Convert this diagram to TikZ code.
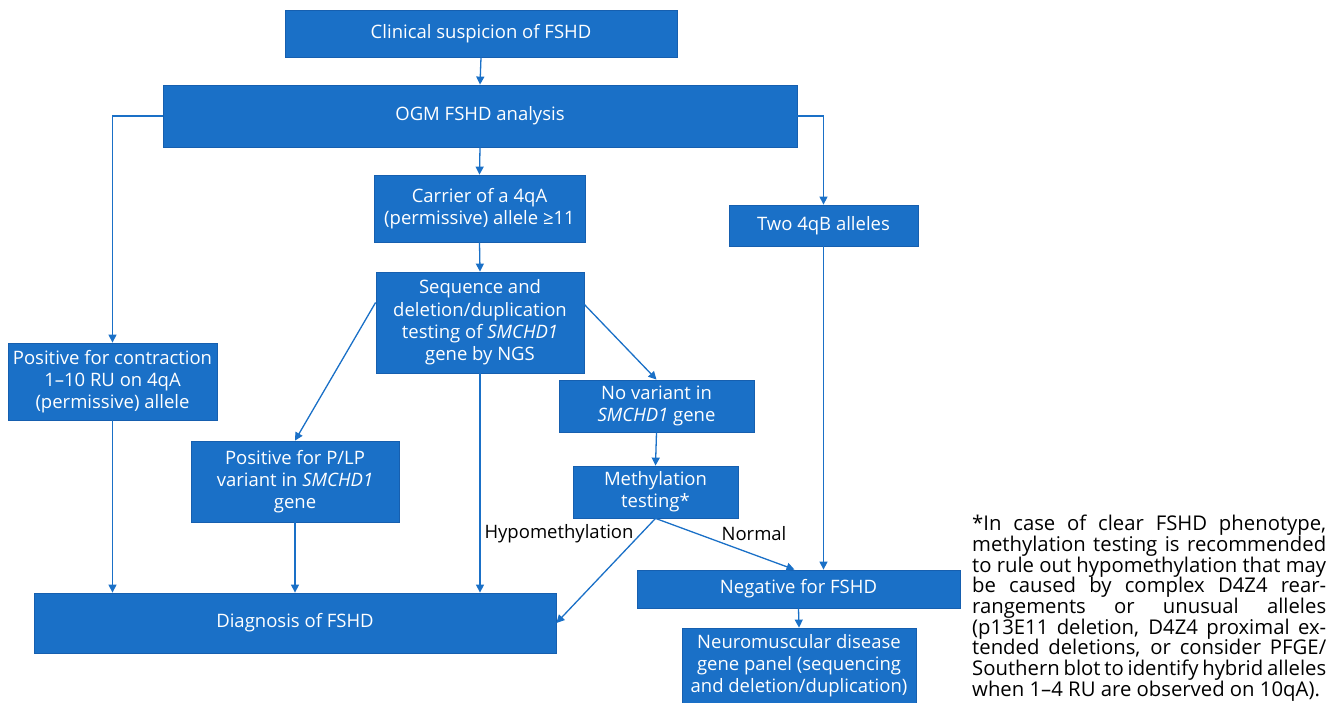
\documentclass[tikz,border=0pt]{standalone}
\usepackage{fontspec}
\setmainfont{Open Sans}
\usetikzlibrary{arrows.meta}
\definecolor{boxblue}{RGB}{26,112,199}
\definecolor{boxedge}{RGB}{22,95,175}
\begin{document}
\begin{tikzpicture}[x=1pt,y=-1pt,
  box/.style={draw=boxedge,fill=boxblue,text=white,align=center,inner sep=0pt,line width=0.8pt,font=\fontsize{18.5}{22.3}\selectfont},
  arr/.style={draw=boxblue,line width=1.3pt,-{Triangle[length=8pt,width=8pt]}},
  lbl/.style={font=\fontsize{18.5}{22}\selectfont,text=black,inner sep=0pt},
  note/.style={font=\fontsize{20.3}{20.7}\selectfont,text=black,inner sep=0pt,align=left}]
\useasboundingbox (0,0) rectangle (1336,703);
\node[box,minimum width=392,minimum height=47] (clin) at (481,33.5) {Clinical suspicion of FSHD};
\node[box,minimum width=634,minimum height=62] (ogm) at (480,116) {OGM FSHD analysis};
\node[box,minimum width=211,minimum height=67] (carrier) at (479.5,208.5) {Carrier of a 4qA\\(permissive) allele ≥11};
\node[box,minimum width=189,minimum height=41] (two) at (823.5,225.5) {Two 4qB alleles};
\node[box,minimum width=208,minimum height=101] (seq) at (480,322.5) {Sequence and\\deletion/duplication\\testing of \textit{SMCHD1}\\gene by NGS};
\node[box,minimum width=209,minimum height=77] (contr) at (112.5,381.5) {Positive for contraction\\1–10 RU on 4qA\\(permissive) allele};
\node[box,minimum width=208,minimum height=81] (plp) at (295,481.5) {Positive for P/LP\\variant in \textit{SMCHD1}\\gene};
\node[box,minimum width=195,minimum height=52] (novar) at (656.5,406) {No variant in\\\textit{SMCHD1} gene};
\node[box,minimum width=165,minimum height=52] (meth) at (655.5,492) {Methylation\\testing*};
\node[box,minimum width=323,minimum height=38] (neg) at (798.5,589) {Negative for FSHD};
\node[box,minimum width=234,minimum height=75] (neuro) at (799,665.5) {Neuromuscular disease\\gene panel (sequencing\\and deletion/duplication)};
\node[box,minimum width=522,minimum height=60] (diag) at (295,623) {Diagnosis of FSHD};
\node[lbl] (hypo) at (559,534) {Hypomethylation};
\node[lbl] (normal) at (754,534) {Normal};
\draw[arr] (clin.south) -- (ogm.north);
\draw[arr] (ogm.west) -| (contr.north);
\draw[arr] (ogm.east) -| (two.north);
\draw[arr] (ogm.south) -- (carrier.north);
\draw[arr] (carrier.south) -- (seq.north);
\draw[arr] ([yshift=20]seq.west) -- (plp.north);
\draw[arr] (seq.south) -- (seq.south |- diag.north);
\draw[arr] ([yshift=18]seq.east) -- (novar.north);
\draw[arr] (novar.south) -- (meth.south |- meth.north);
\draw[arr] (meth.south) -- (diag.east);
\draw[arr] (meth.south) -- ([xshift=-4]neg.north);
\draw[arr] (two.south) -- (two.south |- neg.north);
\draw[arr] (neg.south) -- (neuro.north);
\draw[arr] (contr.south) -- (contr.south |- diag.north);
\draw[arr] (plp.south) -- (plp.south |- diag.north);
\node[note,anchor=north west] (fn) at (972,515) {%
\makebox[354pt][s]{*In case of clear FSHD phenotype,}\\
\makebox[354pt][s]{methylation testing is recommended}\\
\makebox[354pt][s]{to rule out hypomethylation that may}\\
\makebox[354pt][s]{be caused by complex D4Z4 rear-}\\
\makebox[354pt][s]{rangements or unusual alleles}\\
\makebox[354pt][s]{(p13E11 deletion, D4Z4 proximal ex-}\\
\makebox[354pt][s]{tended deletions, or consider PFGE/}\\
\makebox[354pt][s]{Southern blot to identify hybrid alleles}\\
when 1–4 RU are observed on 10qA).};
\end{tikzpicture}
\end{document}
